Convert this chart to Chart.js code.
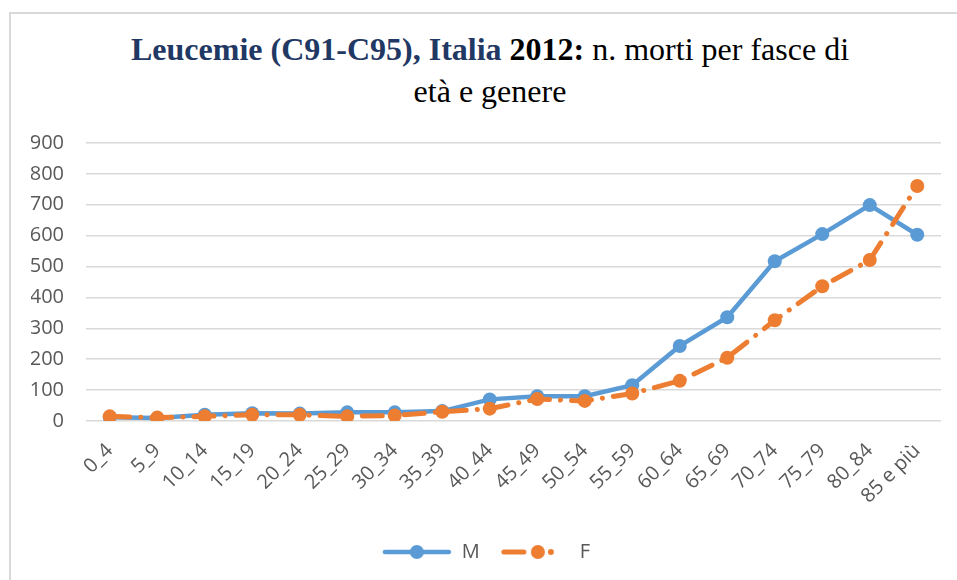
<!DOCTYPE html>
<html>
<head>
<meta charset="utf-8">
<script src="https://cdn.jsdelivr.net/npm/chart.js@4.4.1/dist/chart.umd.min.js"></script>
<style>
  html, body { margin: 0; padding: 0; background: #fff; }
  #wrap { position: relative; width: 957px; height: 580px; overflow: hidden; }
  #frame { position: absolute; left: 9px; top: 12px; width: 960px; height: 600px; border: 2px solid #d9d9d9; box-sizing: border-box; }
  #title { position: absolute; left: 0; top: 28px; width: 980px; text-align: center; font-family: "Liberation Serif", "Times New Roman", serif; font-size: 32px; line-height: 42px; color: #000; }
  #title .b { font-weight: bold; color: #1f3864; }
  #title .k { font-weight: bold; color: #000; }
  canvas { position: absolute; left: 0; top: 0; }
</style>
</head>
<body>
<div id="wrap">
  <div id="frame"></div>
  <div id="title"><span class="b">Leucemie (C91-C95), Italia</span> <span class="k">2012:</span> n. morti per fasce di<br>età e genere</div>
  <canvas id="c" width="957" height="580"></canvas>
</div>
<script>
const categories = ["0_4","5_9","10_14","15_19","20_24","25_29","30_34","35_39","40_44","45_49","50_54","55_59","60_64","65_69","70_74","75_79","80_84","85 e più"];
const maleValues = [12, 10, 20, 25, 24, 28, 28, 32, 70, 80, 80, 116, 243, 336, 517, 605, 699, 603];
const femaleValues = [15, 11, 15, 20, 20, 15, 18, 30, 40, 71, 65, 89, 130, 205, 326, 436, 521, 761];
const yTicks = [0, 100, 200, 300, 400, 500, 600, 700, 800, 900];
const seriesNames = ["M", "F"];

const BLUE = "#5b9bd5", ORANGE = "#ed7d31", GREY = "#595959";

function legendImg(kind) {
  const cv = document.createElement("canvas");
  cv.width = 70; cv.height = 18;
  const g = cv.getContext("2d");
  g.lineCap = "round";
  if (kind === "M") {
    g.strokeStyle = BLUE; g.lineWidth = 4.5;
    g.beginPath(); g.moveTo(3, 9); g.lineTo(67, 9); g.stroke();
    g.fillStyle = BLUE; g.beginPath(); g.arc(35, 9, 7, 0, Math.PI * 2); g.fill();
  } else {
    g.strokeStyle = ORANGE; g.lineWidth = 5;
    g.beginPath(); g.moveTo(4, 9); g.lineTo(24, 9); g.stroke();
    g.fillStyle = ORANGE; g.beginPath(); g.arc(38, 9, 7, 0, Math.PI * 2); g.fill();
    g.beginPath(); g.arc(51, 9, 3, 0, Math.PI * 2); g.fill();
  }
  return cv;
}
const imgs = { M: legendImg("M"), F: legendImg("F") };

new Chart(document.getElementById("c"), {
  type: "line",
  data: {
    labels: categories,
    datasets: [
      { label: seriesNames[0], data: maleValues, borderColor: BLUE, backgroundColor: BLUE,
        borderWidth: 4.5, pointRadius: 7, pointHoverRadius: 7, pointBorderWidth: 0,
        pointBackgroundColor: BLUE, tension: 0, order: 1 },
      { label: seriesNames[1], data: femaleValues, borderColor: ORANGE, backgroundColor: ORANGE,
        borderWidth: 5, borderDash: [20, 11, 0.1, 11], borderCapStyle: "round",
        pointRadius: 7, pointHoverRadius: 7, pointBorderWidth: 0,
        pointBackgroundColor: ORANGE, tension: 0, order: 0 }
    ]
  },
  options: {
    responsive: false,
    animation: false,
    layout: { padding: { top: 143, left: 31, right: 16, bottom: 8 } },
    plugins: {
      title: { display: false },
      tooltip: { enabled: false },
      legend: {
        position: "bottom",
        labels: {
          usePointStyle: true,
          pointStyleWidth: 70,
          color: GREY,
          padding: 20,
          font: { family: "Open Sans", size: 20 },
          generateLabels: (chart) => chart.data.datasets.map((ds, i) => ({
            text: ds.label, pointStyle: imgs[ds.label], fillStyle: ds.borderColor,
            strokeStyle: ds.borderColor, lineWidth: 0, hidden: false, datasetIndex: i, fontColor: GREY
          }))
        }
      }
    },
    scales: {
      x: {
        offset: true,
        grid: { display: false, drawTicks: false, offset: true },
        border: { display: false },
        ticks: { color: GREY, font: { family: "Open Sans", size: 20 }, minRotation: 45, maxRotation: 45, padding: 18, autoSkip: false },
        afterFit: (s) => { s.height = 101; s.paddingLeft = 0; s.paddingRight = 0; }
      },
      y: {
        min: 0, max: 900,
        afterBuildTicks: (s) => { s.ticks = yTicks.map(v => ({ value: v })); },
        grid: { color: "#d9d9d9", lineWidth: 1.5, drawTicks: false },
        border: { display: false },
        ticks: { color: GREY, font: { family: "Open Sans", size: 20 }, padding: 22 },
        afterFit: (s) => { s.width = 55; }
      }
    }
  }
});
</script>
</body>
</html>
